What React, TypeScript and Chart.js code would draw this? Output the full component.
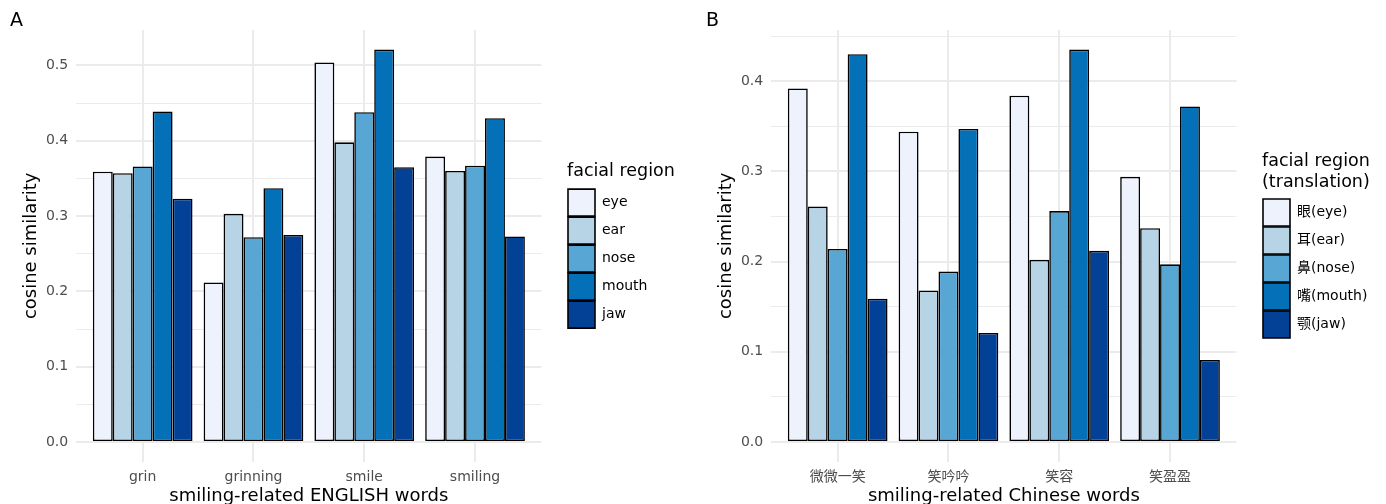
import React, { useEffect, useRef } from 'react';
import { Chart, registerables } from 'chart.js';

Chart.register(...registerables);

const FONT = "'DejaVu Sans', 'Noto Sans CJK SC', sans-serif";
Chart.defaults.font.family = FONT;

// ---------- Panel A data ----------
const categoriesA = ['grin', 'grinning', 'smile', 'smiling'];
const regionsA = ['eye', 'ear', 'nose', 'mouth', 'jaw'];
const eyeA = [0.359, 0.212, 0.504, 0.379];
const earA = [0.357, 0.303, 0.398, 0.36];
const noseA = [0.366, 0.272, 0.438, 0.367];
const mouthA = [0.439, 0.337, 0.521, 0.43];
const jawA = [0.323, 0.275, 0.365, 0.273];

// ---------- Panel B data ----------
const categoriesB = ['微微一笑', '笑吟吟', '笑容', '笑盈盈'];
const regionsB = ['眼(eye)', '耳(ear)', '鼻(nose)', '嘴(mouth)', '颚(jaw)'];
const eyeB = [0.392, 0.344, 0.384, 0.294];
const earB = [0.261, 0.168, 0.202, 0.237];
const noseB = [0.214, 0.189, 0.256, 0.197];
const mouthB = [0.43, 0.347, 0.435, 0.372];
const jawB = [0.159, 0.121, 0.212, 0.091];

// ---------- ticks ----------
const yMajorA = [0, 0.1, 0.2, 0.3, 0.4, 0.5];
const yMinorA = [0.05, 0.15, 0.25, 0.35, 0.45];
const yMajorB = [0, 0.1, 0.2, 0.3, 0.4];
const yMinorB = [0.05, 0.15, 0.25, 0.35, 0.45];

const fillColors = ['#EEF2FD', '#B7D3E6', '#57A6D3', '#0370B7', '#034196'];
const GRID = '#EBEBEB';
const TICK_COLOR = '#4D4D4D';

// let the legend draw its (wider) title and labels without being clipped
const legendClipFix = {
  id: 'legendClipFix',
  afterLayout(chart: any) {
    const lg = chart.legend;
    if (lg) {
      lg.right = chart.width;
      lg.width = lg.right - lg.left;
    }
  },
};

type PanelProps = {
  tag: string;
  categories: string[];
  regions: string[];
  series: number[][];
  yMajor: number[];
  yMinor: number[];
  xTitle: string;
  legendTitle: string | string[];
  legendTitlePadBottom: number;
  width: number;
  left: number;
  yAxisWidth: number;
  padRight: number;
  yTitlePadTop: number;
};

function Panel(p: PanelProps) {
  const ref = useRef<HTMLCanvasElement | null>(null);
  useEffect(() => {
    if (!ref.current) return;
    const maxVal = Math.max(...p.series.flat());
    const chart = new Chart(ref.current, {
      type: 'bar',
      data: {
        datasets: p.regions.map((r, k) => ({
          label: r,
          data: p.series[k].map((v, i) => ({ x: i, y: v })),
          backgroundColor: fillColors[k],
          borderColor: '#000',
          borderWidth: 1.6,
          borderSkipped: false,
          categoryPercentage: 0.9,
          barPercentage: 1,
          xAxisID: 'x',
          yAxisID: 'y',
        })),
      } as any,
      plugins: [legendClipFix],
      options: {
        responsive: false,
        animation: false,
        events: [],
        layout: { padding: { left: 10, right: p.padRight, top: 0, bottom: 0 } },
        scales: {
          x: {
            type: 'linear',
            min: -0.6,
            max: p.categories.length - 0.4,
            offset: false,
            afterBuildTicks: (axis: any) => {
              axis.ticks = p.categories.map((_, i) => ({ value: i }));
            },
            afterFit: (axis: any) => {
              axis.height = 42.3;
            },
            grid: { color: GRID, lineWidth: 2, drawTicks: false, offset: false },
            border: { display: false },
            ticks: {
              autoSkip: false,
              maxRotation: 0,
              padding: 7,
              color: TICK_COLOR,
              font: { size: 14 },
              callback: (v: any) => p.categories[v] ?? '',
            },
            title: {
              display: true,
              text: p.xTitle,
              color: '#000',
              font: { size: 18, lineHeight: 1 },
              padding: { top: 0, bottom: -1.5 },
            },
          },
          y: {
            type: 'linear',
            min: -0.05 * maxVal,
            max: 1.05 * maxVal,
            afterBuildTicks: (axis: any) => {
              axis.ticks = [...p.yMajor, ...p.yMinor]
                .sort((a, b) => a - b)
                .map((v) => ({ value: v }));
            },
            afterFit: (axis: any) => {
              axis.width = p.yAxisWidth;
            },
            grid: {
              color: GRID,
              lineWidth: (ctx: any) => (p.yMajor.includes(ctx.tick?.value) ? 2 : 1),
              drawTicks: false,
            },
            border: { display: false },
            ticks: {
              autoSkip: false,
              padding: 8,
              color: TICK_COLOR,
              font: { size: 14 },
              callback: (v: any) => (p.yMajor.includes(v) ? Number(v).toFixed(1) : ''),
            },
            title: {
              display: true,
              text: 'cosine similarity',
              color: '#000',
              font: { size: 18 },
              padding: { top: p.yTitlePadTop, bottom: 0 },
            },
          },
          gap: {
            type: 'linear',
            position: 'right',
            display: true,
            grid: { display: false, drawTicks: false },
            ticks: { display: false },
            border: { display: false },
            afterFit: (axis: any) => {
              axis.width = 25.5;
            },
          },
        },
        plugins: {
          title: {
            display: true,
            text: p.tag,
            align: 'start',
            color: '#000',
            font: { size: 19, weight: 'normal', lineHeight: 18 / 19 },
            padding: { top: 12, bottom: 0 },
          },
          legend: {
            position: 'right',
            align: 'center',
            fullSize: false,
            maxWidth: 40,
            labels: {
              boxWidth: 27,
              boxHeight: 27,
              padding: 1,
              color: '#000',
              font: { size: 14 },
            },
            title: {
              display: true,
              text: p.legendTitle,
              color: '#000',
              position: 'start',
              font: { size: 17.5 },
              padding: { top: 0, bottom: p.legendTitlePadBottom },
            },
          },
          tooltip: { enabled: false },
        },
      } as any,
    });
    return () => chart.destroy();
  }, []);
  return (
    <canvas
      ref={ref}
      width={p.width}
      height={504}
      style={{ position: 'absolute', left: p.left, top: 0, width: p.width, height: 504 }}
    />
  );
}

export default function App() {
  return (
    <div
      style={{
        position: 'absolute',
        left: 0,
        top: 0,
        width: 1386,
        height: 504,
        background: '#fff',
        overflow: 'hidden',
      }}
    >
      <Panel
        tag="A"
        categories={categoriesA}
        regions={regionsA}
        series={[eyeA, earA, noseA, mouthA, jawA]}
        yMajor={yMajorA}
        yMinor={yMinorA}
        xTitle="smiling-related ENGLISH words"
        legendTitle="facial region"
        legendTitlePadBottom={4.5}
        width={696}
        left={0}
        yAxisWidth={66.2}
        padRight={89}
        yTitlePadTop={10.2}
      />
      <Panel
        tag="B"
        categories={categoriesB}
        regions={regionsB}
        series={[eyeB, earB, noseB, mouthB, jawB]}
        yMajor={yMajorB}
        yMinor={yMinorB}
        xTitle="smiling-related Chinese words"
        legendTitle={['facial region', '(translation)']}
        legendTitlePadBottom={24.3}
        width={690}
        left={696}
        yAxisWidth={65.2}
        padRight={84}
        yTitlePadTop={9.2}
      />
    </div>
  );
}
